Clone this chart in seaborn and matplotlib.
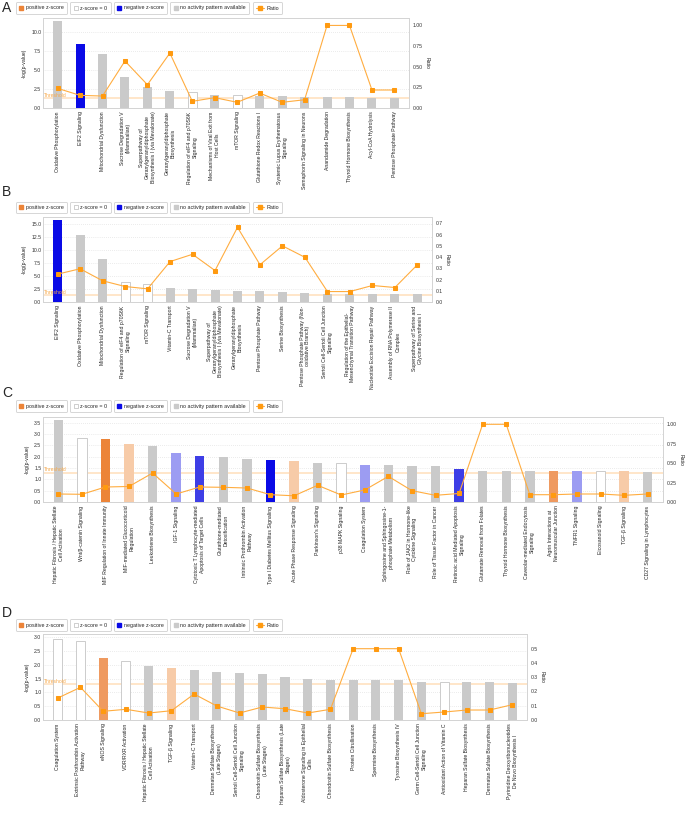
import numpy as np
import pandas as pd
import matplotlib
matplotlib.use('Agg')
import matplotlib.pyplot as plt
from matplotlib.lines import Line2D
import seaborn as sns

sns.set_style('white')
plt.rcParams['font.family'] = ['Liberation Sans', 'DejaVu Sans']

W, H = 685, 813

# ── z-score colours ──────────────────────────────────────────
ZCOL = {
    'na': '#CACACA',
    'zero': '#FFFFFF',
    'neg': '#0A0AE6',
    'neg_mid': '#3E3EE6',
    'neg_light': '#9C9CF2',
    'pos': '#EC8438',
    'pos_mid': '#EF9A60',
    'pos_light': '#F7CBA8',
}
LINE_COL = '#FFAD40'
MARK_COL = '#FF9A10'

# ── Panel A ──────────────────────────────────────────────────
a_names = [
    'Oxidative Phosphorylation', 'EIF2 Signaling', 'Mitochondrial Dysfunction',
    'Sucrose Degradation V\n(Mammalian)',
    'Superpathway of\nGeranylgeranyldiphosphate\nBiosynthesis I (via Mevalonate)',
    'Geranylgeranyldiphosphate\nBiosynthesis',
    'Regulation of eIF4 and p70S6K\nSignaling',
    'Mechanisms of Viral Exit from\nHost Cells',
    'mTOR Signaling', 'Glutathione Redox Reactions I',
    'Systemic Lupus Erythematosus\nSignaling',
    'Semaphorin Signaling in Neurons', 'Anandamide Degradation',
    'Thyroid Hormone Biosynthesis', 'Acyl-CoA Hydrolysis',
    'Pentose Phosphate Pathway',
]
a_logp = [11.4, 8.38, 7.1, 4.12, 2.72, 2.28, 2.1, 1.71, 1.67, 1.58, 1.54,
          1.42, 1.38, 1.38, 1.33, 1.33]
a_ratio = [0.238, 0.153, 0.145, 0.569, 0.282, 0.665, 0.081, 0.125, 0.069,
           0.181, 0.069, 0.10, 1.0, 1.0, 0.218, 0.218]
a_z = ['na', 'neg', 'na', 'na', 'na', 'na', 'zero', 'na', 'zero', 'na', 'na',
       'na', 'na', 'na', 'na', 'na']

# ── Panel B ──────────────────────────────────────────────────
b_names = [
    'EIF2 Signaling', 'Oxidative Phosphorylation', 'Mitochondrial Dysfunction',
    'Regulation of eIF4 and p70S6K\nSignaling', 'mTOR Signaling',
    'Vitamin-C Transport', 'Sucrose Degradation V\n(Mammalian)',
    'Superpathway of\nGeranylgeranyldiphosphate\nBiosynthesis I (via Mevalonate)',
    'Geranylgeranyldiphosphate\nBiosynthesis', 'Pentose Phosphate Pathway',
    'Serine Biosynthesis',
    'Pentose Phosphate Pathway (Non-\noxidative Branch)',
    'Sertoli Cell-Sertoli Cell Junction\nSignaling',
    'Regulation of the Epithelial-\nMesenchymal Transition Pathway',
    'Nucleotide Excision Repair Pathway',
    'Assembly of RNA Polymerase II\nComplex',
    'Superpathway of Serine and\nGlycine Biosynthesis I',
]
b_logp = [15.8, 12.9, 8.3, 3.95, 3.4, 2.75, 2.45, 2.38, 2.2, 2.1, 1.9, 1.72,
          1.58, 1.58, 1.52, 1.52, 1.48]
b_ratio = [0.248, 0.296, 0.189, 0.138, 0.117, 0.36, 0.425, 0.28, 0.665,
           0.332, 0.5, 0.398, 0.093, 0.093, 0.147, 0.129, 0.332]
b_z = ['neg', 'na', 'na', 'zero', 'zero', 'na', 'na', 'na', 'na', 'na', 'na',
       'na', 'na', 'na', 'na', 'na', 'na']

# ── Panel C ──────────────────────────────────────────────────
c_names = [
    'Hepatic Fibrosis / Hepatic Stellate\nCell Activation',
    'Wnt/β-catenin Signaling', 'MIF Regulation of Innate Immunity',
    'MIF-mediated Glucocorticoid\nRegulation', 'Leukotriene Biosynthesis',
    'IGF-1 Signaling',
    'Cytotoxic T Lymphocyte-mediated\nApoptosis of Target Cells',
    'Glutathione-mediated\nDetoxification',
    'Intrinsic Prothrombin Activation\nPathway',
    'Type I Diabetes Mellitus Signaling', 'Acute Phase Response Signaling',
    "Parkinson's Signaling", 'p38 MAPK Signaling', 'Coagulation System',
    'Sphingosine and Sphingosine-1-\nphosphate Metabolism',
    'Role of JAK2 in Hormone-like\nCytokine Signaling',
    'Role of Tissue Factor in Cancer',
    'Retinoic acid Mediated Apoptosis\nSignaling',
    'Glutamate Removal from Folates', 'Thyroid Hormone Biosynthesis',
    'Caveolar-mediated Endocytosis\nSignaling',
    'Agrin Interactions at\nNeuromuscular Junction',
    'TNFR1 Signaling', 'Eicosanoid Signaling', 'TGF-β Signaling',
    'CD27 Signaling in Lymphocytes',
]
c_logp = [3.6, 2.84, 2.76, 2.54, 2.46, 2.15, 2.03, 1.97, 1.91, 1.84, 1.81,
          1.72, 1.71, 1.63, 1.63, 1.6, 1.59, 1.46, 1.38, 1.38, 1.35, 1.35,
          1.35, 1.35, 1.35, 1.32]
c_ratio = [0.103, 0.099, 0.193, 0.2, 0.373, 0.103, 0.193, 0.189, 0.18, 0.094,
           0.08, 0.215, 0.09, 0.155, 0.33, 0.146, 0.086, 0.11, 1.0, 1.0,
           0.094, 0.094, 0.103, 0.103, 0.086, 0.103]
c_z = ['na', 'zero', 'pos', 'pos_light', 'na', 'neg_light', 'neg_mid', 'na',
       'na', 'neg', 'pos_light', 'na', 'zero', 'neg_light', 'na', 'na', 'na',
       'neg_mid', 'na', 'na', 'na', 'pos_mid', 'neg_light', 'zero',
       'pos_light', 'na']

# ── Panel D ──────────────────────────────────────────────────
d_names = [
    'Coagulation System', 'Extrinsic Prothrombin Activation\nPathway',
    'eNOS Signaling', 'VDR/RXR Activation',
    'Hepatic Fibrosis / Hepatic Stellate\nCell Activation', 'TGF-β Signaling',
    'Vitamin-C Transport', 'Dermatan Sulfate Biosynthesis\n(Late Stages)',
    'Sertoli Cell-Sertoli Cell Junction\nSignaling',
    'Chondroitin Sulfate Biosynthesis\n(Late Stages)',
    'Heparan Sulfate Biosynthesis (Late\nStages)',
    'Aldosterone Signaling in Epithelial\nCells',
    'Chondroitin Sulfate Biosynthesis', 'Protein Citrullination',
    'Spermine Biosynthesis', 'Tyrosine Biosynthesis IV',
    'Germ Cell-Sertoli Cell Junction\nSignaling',
    'Antioxidant Action of Vitamin C', 'Heparan Sulfate Biosynthesis',
    'Dermatan Sulfate Biosynthesis',
    'Pyrimidine Deoxyribonucleotides\nDe Novo Biosynthesis I',
]
d_logp = [2.94, 2.85, 2.26, 2.15, 1.97, 1.9, 1.81, 1.75, 1.72, 1.67, 1.55,
          1.5, 1.46, 1.46, 1.46, 1.46, 1.39, 1.38, 1.38, 1.38, 1.34]
d_ratio = [0.154, 0.229, 0.061, 0.075, 0.049, 0.065, 0.182, 0.098, 0.049,
           0.091, 0.079, 0.049, 0.075, 0.5, 0.5, 0.5, 0.044, 0.056, 0.07,
           0.07, 0.107]
d_z = ['zero', 'zero', 'pos_mid', 'zero', 'na', 'pos_light', 'na', 'na', 'na',
       'na', 'na', 'na', 'na', 'na', 'na', 'na', 'na', 'zero', 'na', 'na',
       'na']

THRESHOLD = 1.3
FS = 3.7

fig = plt.figure(figsize=(W / 100, H / 100), dpi=100)
renderer = fig.canvas.get_renderer()


def px_rect(left, top, right, bottom):
    return [left / W, 1 - bottom / H, (right - left) / W, (bottom - top) / H]


def draw_legend(x0, yc):
    items = [
        (Line2D([0], [0], ls='none', marker='s', ms=2.6, mfc=ZCOL['pos'], mec=ZCOL['pos']), 'positive z-score', 0.7),
        (Line2D([0], [0], ls='none', marker='s', ms=2.6, mfc='white', mec='#AAAAAA', mew=0.4), 'z-score = 0', 0.7),
        (Line2D([0], [0], ls='none', marker='s', ms=2.6, mfc=ZCOL['neg'], mec=ZCOL['neg']), 'negative z-score', 0.7),
        (Line2D([0], [0], ls='none', marker='s', ms=2.6, mfc=ZCOL['na'], mec=ZCOL['na']), 'no activity pattern available', 0.7),
        (Line2D([0], [0], color=LINE_COL, lw=0.8, marker='s', ms=2.4, mfc=MARK_COL, mec=MARK_COL), 'Ratio', 1.5),
    ]
    x = x0
    for handle, label, hl in items:
        leg = fig.legend(handles=[handle], labels=[label], loc='center left',
                         bbox_to_anchor=(x / W, 1 - yc / H), fontsize=3.9,
                         frameon=True, fancybox=True, framealpha=1,
                         edgecolor='#D0D0D0', borderpad=0.6,
                         handlelength=hl, handletextpad=0.5,
                         borderaxespad=0)
        leg.get_frame().set_linewidth(0.6)
        bb = leg.get_window_extent(renderer)
        x = bb.x1 + 3.5


def draw_panel(letter, letter_y, legend_y, rect, names, logp, ratio, zs,
               ylim, yticks, yfmt, ylim2, yticks2, yfmt2):
    ax = fig.add_axes(px_rect(*rect))
    n = len(names)
    df = pd.DataFrame({'pathway': names, 'logp': logp})
    sns.barplot(data=df, x='pathway', y='logp', hue='pathway',
                palette=[ZCOL[z] for z in zs], width=0.4, saturation=1,
                legend=False, ax=ax, zorder=2)
    for patch, z in zip(ax.patches, zs):
        if z == 'zero':
            patch.set_edgecolor('#C4C4C4')
            patch.set_linewidth(0.6)
        else:
            patch.set_linewidth(0)

    ax.axhline(THRESHOLD, color='#FFE2C0', lw=1.2, zorder=1)
    ax.text(-0.62, THRESHOLD + ylim * 0.005, 'Threshold', color='#F8A848',
            fontsize=3.6, ha='left', va='bottom', zorder=3)

    ax.set_ylim(0, ylim)
    ax.set_yticks(yticks)
    ax.set_yticklabels([yfmt.format(v) for v in yticks])
    ax.yaxis.grid(True, ls=(0, (1, 2)), color='#D8D8D8', lw=0.5)
    ax.set_axisbelow(True)
    ax.set_xticks(range(n))
    ax.set_xticklabels(names, rotation=90, fontsize=FS, ha='center',
                       va='top', multialignment='center')
    ax.tick_params(axis='x', length=0, pad=2.5, colors='#222222')
    ax.tick_params(axis='y', length=0, pad=1.2, labelsize=FS,
                   colors='#333333')
    ax.set_xlabel('')
    ax.set_ylabel('-log(p-value)', fontsize=FS, labelpad=3, color='#222222')

    ax2 = ax.twinx()
    sns.lineplot(x=np.arange(n), y=ratio, ax=ax2, color=LINE_COL, lw=0.8,
                 marker='s', markersize=3, markerfacecolor=MARK_COL,
                 markeredgecolor=MARK_COL, zorder=4)
    ax2.set_ylim(0, ylim2)
    ax2.set_yticks(yticks2)
    ax2.set_yticklabels([yfmt2.format(v) for v in yticks2])
    ax2.tick_params(axis='y', length=0, pad=2.5, labelsize=FS,
                    colors='#333333')
    ax2.set_ylabel('Ratio', rotation=270, fontsize=FS, labelpad=5,
                   color='#222222')
    ax.set_xlim(-0.65, n - 0.35)

    for a in (ax, ax2):
        for sp in a.spines.values():
            sp.set_color('#D4D4D4')
            sp.set_linewidth(0.7)

    fig.text(2 / W, 1 - letter_y / H, letter, fontsize=10, ha='left',
             va='center')
    draw_legend(16, legend_y)


draw_panel('A', 8, 8, (43, 18, 409, 108), a_names, a_logp, a_ratio, a_z,
           11.8, np.arange(0, 10.1, 2.5), '{:.1f}',
           1.09, [0, 0.25, 0.5, 0.75, 1.0], '{:.2f}')
draw_panel('B', 192, 207.5, (43, 217, 432, 302), b_names, b_logp, b_ratio,
           b_z, 16.4, np.arange(0, 15.1, 2.5), '{:.1f}',
           0.757, np.arange(0, 0.71, 0.1), '{:.1f}')
draw_panel('C', 393, 406, (43, 417, 663, 502), c_names, c_logp, c_ratio, c_z,
           3.75, np.arange(0, 3.51, 0.5), '{:.1f}',
           1.094, [0, 0.25, 0.5, 0.75, 1.0], '{:.2f}')
draw_panel('D', 612.5, 625, (43, 634, 527, 720), d_names, d_logp, d_ratio,
           d_z, 3.12, np.arange(0, 3.01, 0.5), '{:.1f}',
           0.603, np.arange(0, 0.51, 0.1), '{:.1f}')

fig.savefig('out.png', dpi=100, facecolor='white')
